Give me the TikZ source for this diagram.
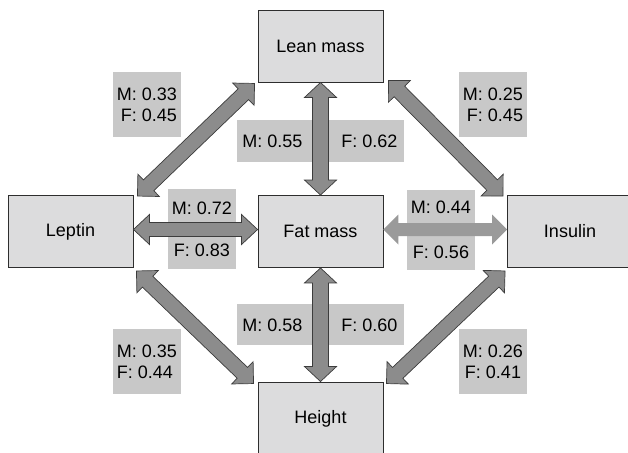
\documentclass[tikz,border=0pt]{standalone}
\usepackage{fontspec}
\setmainfont{Liberation Sans}
\usetikzlibrary{calc}
\definecolor{boxfill}{HTML}{DCDCDD}
\definecolor{boxline}{HTML}{2E2E2E}
\definecolor{labfill}{HTML}{C8C8C8}
\definecolor{arrfill}{HTML}{8C8C8C}
\definecolor{arrline}{HTML}{3C3C3C}
\definecolor{arrlight}{HTML}{9A9A9A}
\tikzset{
  headhalf/.store in=\bahh, headhalf=16pt,
  shafthalf/.store in=\bash, shafthalf=8pt,
  headlen/.store in=\bahl, headlen=15pt,
  blockarrow/.style={fill=arrfill, draw=arrline, line width=0.7pt, line join=miter,
    to path={let \p1=(\tikztostart), \p2=(\tikztotarget),
      \n1={atan2(\y2-\y1,\x2-\x1)}, \n2={veclen(\x2-\x1,\y2-\y1)} in
      [shift={(\p1)}, rotate=\n1]
      (0pt,0pt) -- (\bahl,\bahh) -- (\bahl,\bash) -- ({\n2-\bahl},\bash) -- ({\n2-\bahl},\bahh)
      -- (\n2,0pt) -- ({\n2-\bahl},-\bahh) -- ({\n2-\bahl},-\bash) -- (\bahl,-\bash) -- (\bahl,-\bahh) -- cycle}},
  lightarrow/.style={blockarrow, fill=arrlight, draw=none},
  mainbox/.style={draw=boxline, fill=boxfill, line width=0.9pt, minimum width=125pt, minimum height=72pt, inner sep=0pt},
  labbox/.style={fill=labfill, inner sep=0pt},
  labtext/.style={inner sep=0pt},
}
\begin{document}
\begin{tikzpicture}[x=1pt, y=-1pt, font=\fontsize{18}{21}\selectfont]
\useasboundingbox (0,0) rectangle (628,452);
\clip (0,0) rectangle (628,452);
% labels
\node[labbox, minimum width=68pt, minimum height=65pt, align=right] (l33) at (147,104.5) {M: 0.33\\F: 0.45};
\node[labbox, minimum width=68pt, minimum height=65pt, align=right] (l25) at (493,104.5) {M: 0.25\\F: 0.45};
\node[labbox, minimum width=68pt, minimum height=65pt, align=left] (l35) at (147,361.5) {M: 0.35\\F: 0.44};
\node[labbox, minimum width=68pt, minimum height=65pt, align=center] (l26) at (493,361.5) {M: 0.26\\F: 0.41};
\node[labbox, minimum width=68pt, minimum height=80pt, align=center] (l72) at (202,229) {M: 0.72\\[21pt]F: 0.83};
\node[labbox, minimum width=68pt, minimum height=80pt, align=center] (l44) at (441,229.5) {M: 0.44\\[24pt]F: 0.56};
\node[labbox, minimum width=167pt, minimum height=42pt] (l55) at (320.5,141) {};
\node[labtext] (m55) at (272.5,141) {M: 0.55};
\node[labtext] (f62) at (369.5,141) {F: 0.62};
\node[labbox, minimum width=167pt, minimum height=41pt] (l58) at (320.5,324.5) {};
\node[labtext] (m58) at (272.5,325) {M: 0.58};
\node[labtext] (f60) at (369.5,325) {F: 0.60};
% main boxes
\node[mainbox] (lean) at (320.5,46) {Lean mass};
\node[mainbox] (lep) at (70.5,231.5) {Leptin};
\node[mainbox] (fat) at (320.5,231.5) {Fat mass};
\node[mainbox] (ins) at (570,231.5) {Insulin};
\node[mainbox, minimum height=74pt] (hgt) at (320.5,419) {Height};
% arrows
\path[blockarrow] (lean.south) to (fat.north);
\path[blockarrow] (fat.south) to (hgt.north);
\path[blockarrow, shafthalf=7pt, headhalf=15pt, headlen=16pt] ([yshift=2pt]lep.east) to ([yshift=2pt]fat.west);
\path[lightarrow, shafthalf=6.5pt, headhalf=15pt, headlen=15pt] ([yshift=2pt]fat.east) to ([yshift=2pt]ins.west);
\path[blockarrow, shafthalf=7.5pt, headhalf=15.5pt, headlen=15.5pt] ([shift={(4,1)}]lep.north east) to ([shift={(-3,1)}]lean.south west);
\path[blockarrow, shafthalf=7.5pt, headhalf=15.5pt, headlen=15.5pt] ([shift={(5,-2)}]lean.south east) to ([shift={(-4,1)}]ins.north west);
\path[blockarrow, shafthalf=7.5pt, headhalf=15.5pt, headlen=15.5pt] ([shift={(3,3)}]lep.south east) to ([shift={(-4,2)}]hgt.north west);
\path[blockarrow, shafthalf=7.5pt, headhalf=15.5pt, headlen=15.5pt] ([shift={(-2,3)}]ins.south west) to ([shift={(3,2)}]hgt.north east);
\end{tikzpicture}
\end{document}
